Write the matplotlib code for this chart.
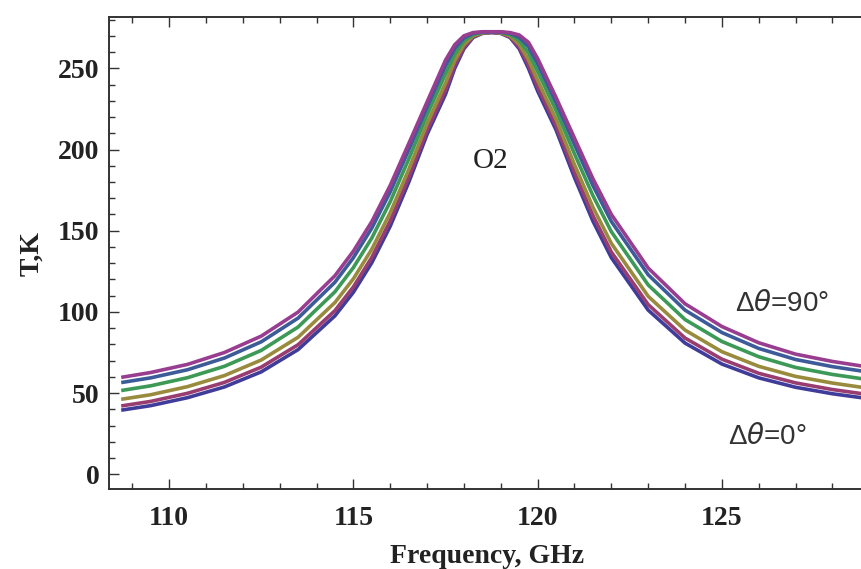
import matplotlib
matplotlib.use("Agg")
import matplotlib.pyplot as plt
from matplotlib.ticker import MultipleLocator

# ---- data ----
freq = [108.7, 109.5, 110.5, 111.5, 112.5, 113.5, 114.5, 115.0, 115.5, 116.0,
        116.5, 117.0, 117.5, 117.75, 118.0, 118.25, 118.5, 118.75, 119.0, 119.25,
        119.5, 119.75, 120.0, 120.5, 121.0, 121.5, 122.0, 123.0, 124.0, 125.0,
        126.0, 127.0, 128.0, 128.85]

T_0 = [39.5, 42.3, 47.2, 53.8, 63.1, 76.8, 97.6, 112.1, 130.3, 152.8,
       179.7, 209.3, 234.0, 250.0, 262.0, 269.0, 271.5, 272.0, 271.5, 269.0,
       262.0, 250.0, 236.0, 212.0, 182.7, 155.9, 133.4, 101.1, 80.8, 67.9,
       59.4, 53.6, 49.6, 47.0]
T_18 = [42.1, 44.9, 49.9, 56.6, 66.0, 79.8, 100.8, 115.4, 133.6, 156.1,
        182.8, 211.9, 236.7, 251.9, 263.0, 269.4, 271.6, 272.1, 271.6, 269.4,
        263.1, 252.1, 238.6, 214.6, 185.9, 159.3, 136.9, 104.5, 83.9, 70.9,
        62.2, 56.3, 52.2, 49.5]
T_36 = [46.2, 49.0, 54.0, 60.8, 70.4, 84.4, 105.8, 120.4, 138.6, 161.1,
        187.6, 215.9, 240.9, 254.8, 264.6, 270.0, 271.8, 272.2, 271.8, 270.0,
        264.8, 255.3, 242.6, 218.6, 190.7, 164.5, 142.2, 109.6, 88.8, 75.5,
        66.5, 60.3, 56.2, 53.4]
T_54 = [51.6, 54.5, 59.5, 66.5, 76.3, 90.7, 112.4, 127.3, 145.5, 167.9,
        194.0, 221.3, 246.6, 258.7, 266.8, 270.8, 272.1, 272.3, 272.1, 270.8,
        267.1, 259.6, 248.0, 224.0, 197.3, 171.6, 149.4, 116.6, 95.3, 81.8,
        72.4, 65.8, 61.5, 58.7]
T_72 = [56.5, 59.4, 64.4, 71.6, 81.6, 96.2, 118.3, 133.4, 151.6, 173.9,
        199.7, 226.1, 251.6, 262.2, 268.7, 271.5, 272.3, 272.4, 272.3, 271.5,
        269.1, 263.4, 252.8, 228.8, 203.1, 177.8, 155.7, 122.9, 101.1, 87.3,
        77.5, 70.7, 66.3, 63.4]
T_90 = [59.7, 62.7, 67.7, 75.0, 85.1, 99.9, 122.3, 137.4, 155.6, 177.9,
        203.5, 229.3, 255.0, 264.5, 270.0, 272.0, 272.5, 272.5, 272.5, 272.0,
        270.5, 266.0, 256.0, 232.0, 207.0, 182.0, 160.0, 127.0, 105.0, 91.0,
        81.0, 74.0, 69.5, 66.5]

series = [T_0, T_18, T_36, T_54, T_72, T_90]
colors = ["#3f3d99", "#993d71", "#998b3d", "#3d9956", "#3d5a99", "#993d90"]

x_ticks = [110, 115, 120, 125]
y_ticks = [0, 50, 100, 150, 200, 250]

# ---- figure ----
fig = plt.figure(figsize=(8.62, 5.69), dpi=100)
ax = fig.add_axes([0.1265, 0.140, 0.8760, 0.8296])

for ys, c in zip(series, colors):
    ax.plot(freq, ys, color=c, lw=2.6, solid_capstyle="butt",
            solid_joinstyle="round", zorder=3)

ax.set_xlim(108.37, 128.86)
ax.set_ylim(-9.24, 281.4)

ax.set_xticks(x_ticks)
ax.set_yticks(y_ticks)
ax.xaxis.set_minor_locator(MultipleLocator(1))
ax.yaxis.set_minor_locator(MultipleLocator(10))
ax.tick_params(which="both", direction="in", top=True, right=False,
               color="#333333", width=1.0)
ax.tick_params(which="major", length=7)
ax.tick_params(which="minor", length=4)
ax.tick_params(axis="x", which="major", labelsize=20, pad=12)
ax.tick_params(axis="y", which="major", labelsize=20, pad=7)

for lab in ax.get_xticklabels() + ax.get_yticklabels():
    lab.set_fontfamily("Liberation Serif")
    lab.set_fontweight("bold")
    lab.set_color("#222222")

for s in ["left", "bottom", "top"]:
    ax.spines[s].set_linewidth(1.4)
    ax.spines[s].set_color("#333333")
ax.spines["right"].set_visible(False)

ax.set_xlabel("Frequency, GHz", fontsize=20, fontweight="bold",
              family="Liberation Serif", color="#222222", labelpad=9)
ax.set_ylabel("T,K", fontsize=20, fontweight="bold",
              family="Liberation Serif", color="#222222", labelpad=10)

ax.text(118.73, 193, "O2", fontsize=21, family="Liberation Serif",
        color="#222222", ha="center", va="center")

plt.rcParams["mathtext.fontset"] = "dejavusans"
ax.text(126.62, 105, "\u0394$\\theta$=90\u00b0", fontsize=20,
        family="Liberation Sans", color="#333333", ha="center", va="center")
ax.text(126.22, 23, "\u0394$\\theta$=0\u00b0", fontsize=20,
        family="Liberation Sans", color="#333333", ha="center", va="center")

fig.savefig("out.png", dpi=100)
